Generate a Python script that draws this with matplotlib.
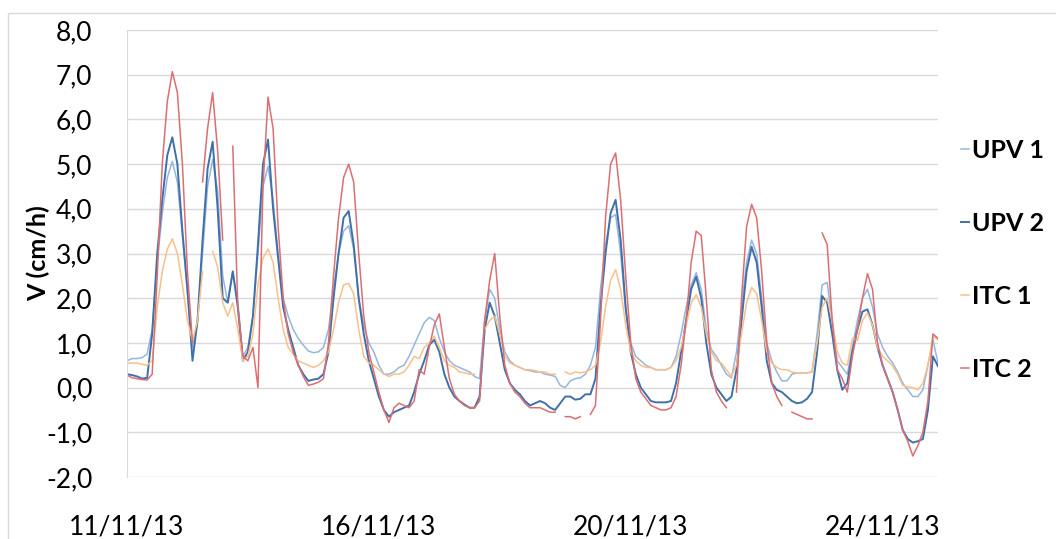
import matplotlib
matplotlib.use('Agg')
import matplotlib.pyplot as plt
from matplotlib.patches import Rectangle
import numpy as np

nan = np.nan

# one reading per sample, Excel category axis
tick_pos = [0, 50, 100, 150]
tick_labels = ['11/11/13', '16/11/13', '20/11/13', '24/11/13']

upv1 = [0.6, 0.65, 0.65, 0.67, 0.75, 1.3, 2.8, 3.9, 4.7, 5.06,
        4.6, 3.4, 2.1, 0.9, 1.5, 3.0, 4.5, 5.1, 4.4, 2.5,
        1.9, 2.6, 1.9, 0.7, 0.9, 1.6, 3.0, 4.5, 4.95, 4.2,
        3.0, 2.0, 1.6, 1.3, 1.1, 0.95, 0.82, 0.78, 0.8, 0.9,
        1.3, 2.2, 3.0, 3.5, 3.62, 3.1, 2.0, 1.4, 1.0, 0.8,
        0.5, 0.3, 0.3, 0.35, 0.45, 0.5, 0.7, 0.95, 1.2, 1.45,
        1.57, 1.5, 1.1, 0.8, 0.6, 0.5, 0.45, 0.4, 0.35, 0.25,
        0.2, 1.5, 2.2, 2.0, 1.3, 0.8, 0.6, 0.5, 0.45, 0.4,
        0.38, 0.35, 0.35, 0.3, 0.28, 0.25, 0.05, 0.0, 0.15, 0.2,
        0.22, 0.3, 0.5, 0.9, 2.2, 3.2, 3.8, 3.87, 3.0, 1.7,
        1.0, 0.7, 0.6, 0.5, 0.45, 0.4, 0.4, 0.4, 0.45, 0.7,
        1.2, 1.8, 2.3, 2.57, 2.2, 1.3, 0.85, 0.7, 0.5, 0.3,
        0.22, 0.8, 1.8, 2.8, 3.3, 3.0, 2.0, 1.0, 0.6, 0.35,
        0.15, 0.15, 0.3, 0.33, 0.33, 0.33, 0.35, 1.2, 2.3, 2.35,
        1.5, 0.6, 0.45, 0.3, 0.9, 1.5, 2.0, 2.2, 1.8, 1.2,
        0.9, 0.7, 0.55, 0.35, 0.1, -0.05, -0.2, -0.2, -0.05, 0.5,
        1.07, 0.55]

upv2 = [0.3, 0.28, 0.25, 0.2, 0.22, 1.2, 3.0, 4.2, 5.2, 5.6,
        5.0, 3.5, 2.2, 0.6, 1.5, 3.3, 4.9, 5.5, 4.0, 2.0,
        1.9, 2.6, 1.8, 0.6, 0.8, 1.6, 3.2, 5.0, 5.55, 4.0,
        2.9, 1.8, 1.3, 0.9, 0.5, 0.3, 0.15, 0.18, 0.2, 0.3,
        0.8, 2.0, 3.0, 3.8, 3.95, 3.2, 2.0, 1.2, 0.6, 0.2,
        -0.2, -0.5, -0.65, -0.55, -0.5, -0.45, -0.4, -0.1, 0.3, 0.6,
        0.95, 1.07, 0.8, 0.3, 0.0, -0.2, -0.3, -0.38, -0.45, -0.45,
        -0.2, 1.3, 1.9, 1.6, 1.0, 0.4, 0.1, -0.05, -0.15, -0.3,
        -0.4, -0.35, -0.3, -0.35, -0.45, -0.5, -0.35, -0.2, -0.2, -0.27,
        -0.25, -0.15, -0.15, 0.2, 1.8, 3.0, 3.9, 4.2, 3.3, 1.8,
        0.8, 0.3, 0.0, -0.15, -0.3, -0.33, -0.33, -0.33, -0.3, 0.1,
        0.8, 1.5, 2.2, 2.48, 2.0, 1.0, 0.3, 0.0, -0.15, -0.3,
        -0.2, 0.4, 1.5, 2.6, 3.15, 2.8, 1.8, 0.6, 0.1, -0.05,
        -0.1, -0.2, -0.3, -0.35, -0.33, -0.25, -0.1, 0.8, 2.05, 1.9,
        1.2, 0.4, -0.05, 0.1, 0.8, 1.3, 1.7, 1.75, 1.4, 0.9,
        0.5, 0.2, -0.1, -0.5, -0.95, -1.15, -1.23, -1.2, -1.15, -0.5,
        0.7, 0.48]

itc1 = [0.55, 0.55, 0.55, 0.52, 0.5, 0.6, 1.8, 2.6, 3.1, 3.33,
        3.0, 2.3, 1.5, 1.05, 1.5, 2.6, nan, 3.05, 2.7, 1.9,
        1.6, 1.9, 1.3, 0.6, 0.7, 1.2, 2.3, 2.9, 3.1, 2.8,
        2.0, 1.3, 0.9, 0.75, 0.6, 0.55, 0.5, 0.45, 0.5, 0.6,
        0.8, 1.3, 1.9, 2.3, 2.33, 2.1, 1.3, 0.7, 0.55, 0.5,
        0.4, 0.3, 0.25, 0.3, 0.3, 0.35, 0.5, 0.7, 0.65, 0.9,
        1.0, 1.15, 0.9, 0.6, 0.5, 0.45, 0.35, 0.33, 0.3, 0.3,
        nan, 1.3, 1.5, 1.6, 1.2, 0.7, 0.55, 0.5, 0.45, 0.4,
        0.4, 0.38, 0.35, 0.35, 0.3, 0.3, nan, 0.35, 0.3, 0.35,
        0.33, 0.35, 0.4, 0.5, 1.0, 1.8, 2.4, 2.64, 2.2, 1.4,
        0.8, 0.6, 0.5, 0.45, 0.45, 0.4, 0.4, 0.4, 0.45, 0.6,
        0.9, 1.4, 1.9, 2.08, 1.8, 1.2, 0.8, 0.6, 0.55, 0.4,
        0.25, 0.5, 1.2, 1.9, 2.24, 2.1, 1.5, 0.8, 0.55, 0.45,
        0.4, 0.4, 0.35, 0.33, 0.33, 0.33, 0.35, 1.0, 1.8, 2.0,
        1.5, 0.8, 0.55, 0.5, 1.1, 1.05, 1.5, 1.67, 1.4, 0.9,
        0.7, 0.6, 0.48, 0.3, 0.05, 0.02, 0.0, -0.05, 0.1, 0.5,
        1.15, 1.07]

itc2 = [0.28, 0.22, 0.2, 0.18, 0.17, 0.3, 2.5, 5.0, 6.4, 7.07,
        6.6, 5.0, 2.6, 1.0, nan, 4.6, 5.8, 6.6, 5.3, 3.3,
        nan, 5.4, 1.8, 0.7, 0.6, 0.9, 0.0, 4.5, 6.5, 5.8,
        3.6, 2.0, 1.2, 0.8, 0.5, 0.25, 0.05, 0.08, 0.12, 0.2,
        1.0, 2.5, 3.8, 4.7, 5.0, 4.6, 3.0, 1.6, 0.8, 0.35,
        -0.1, -0.5, -0.78, -0.45, -0.35, -0.4, -0.45, -0.3, 0.4, 0.3,
        0.9, 1.4, 1.65, 0.9, 0.2, -0.15, -0.3, -0.4, -0.45, -0.45,
        -0.3, 1.5, 2.4, 3.0, 1.6, 0.5, 0.1, -0.1, -0.2, -0.35,
        -0.45, -0.45, -0.45, -0.5, -0.55, -0.55, nan, -0.65, -0.65, -0.7,
        -0.65, nan, -0.6, -0.4, 1.5, 3.8, 5.0, 5.25, 4.2, 2.5,
        1.0, 0.2, -0.1, -0.25, -0.4, -0.45, -0.5, -0.5, -0.45, -0.2,
        0.5, 1.5, 2.8, 3.5, 3.4, 2.0, 0.4, -0.1, -0.3, -0.45,
        nan, -0.1, 2.0, 3.6, 4.1, 3.8, 2.6, 1.0, 0.1, -0.2,
        -0.4, nan, -0.55, -0.6, -0.65, -0.7, -0.7, nan, 3.46, 3.2,
        1.5, 0.4, 0.2, -0.1, 0.7, 1.3, 2.0, 2.55, 2.2, 1.0,
        0.5, 0.2, -0.1, -0.5, -0.95, -1.2, -1.53, -1.3, -1.0, -0.3,
        1.2, 1.1]

series = [('UPV 1', upv1, '#95B6DE', 1.1),
          ('UPV 2', upv2, '#3F70AA', 1.4),
          ('ITC 1', itc1, '#F9C089', 1.1),
          ('ITC 2', itc2, '#DC6E72', 1.1)]

plt.rcParams['font.family'] = ['Lato', 'DejaVu Sans']

fig = plt.figure(figsize=(10.56, 5.39), dpi=100, facecolor='w')
ax = fig.add_axes([127 / 1056, 1 - 477 / 539, 811 / 1056, 447 / 539])

x = np.arange(len(upv1))
for label, vals, color, lw in series:
    ax.plot(x, vals, color=color, linewidth=lw, label=label)

ax.set_xlim(0, len(upv1) - 1)
ax.set_ylim(-2, 8)
ax.set_yticks(np.arange(-2, 9, 1))
ax.set_yticklabels([('%.1f' % v).replace('.', ',') for v in np.arange(-2, 9, 1)])
ax.set_xticks(tick_pos)
ax.set_xticklabels(tick_labels)
ax.tick_params(axis='y', length=0, pad=25, labelsize=19)
ax.tick_params(axis='x', length=0, pad=27, labelsize=19)
ax.grid(True, axis='y', color='#D9D9D9', linewidth=1)
ax.set_axisbelow(True)
for side in ['top', 'right', 'bottom']:
    ax.spines[side].set_visible(False)
ax.spines['left'].set_color('#D9D9D9')

ax.set_ylabel('V (cm/h)', fontsize=18, fontweight='bold')
ax.yaxis.set_label_coords(-0.095, 0.5)

ax.legend(loc='center left', bbox_to_anchor=(1.028, 0.485), frameon=False,
          borderpad=0, borderaxespad=0,
          handlelength=0.35, handletextpad=0.12, labelspacing=2.0,
          prop={'size': 18, 'weight': 'bold'})

fig.patches.append(Rectangle((8 / 1056, -0.1), 1.2, 1 - 13 / 539 + 0.1,
                             transform=fig.transFigure, fill=False,
                             edgecolor='#D9D9D9', linewidth=1))

fig.savefig('out.png', dpi=100)
plt.close()
